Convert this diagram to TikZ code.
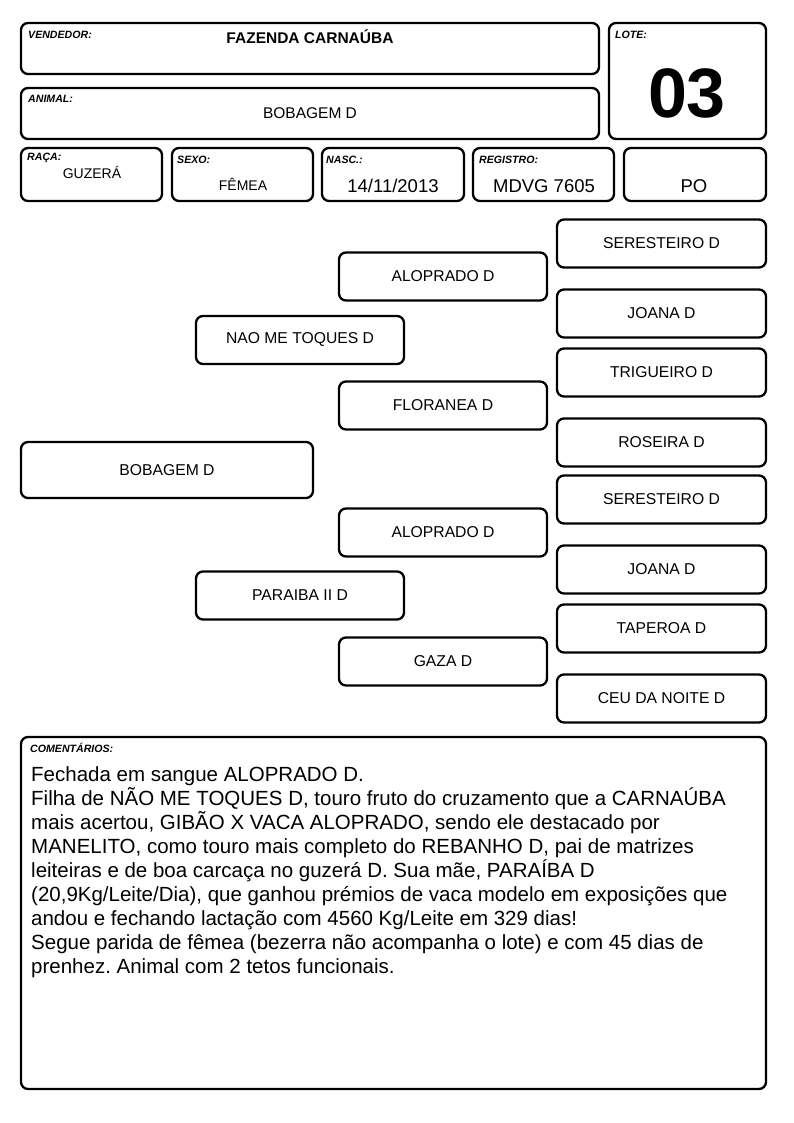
\documentclass[tikz,border=0pt]{standalone}
\usepackage{fontspec}
\setmainfont{Liberation Sans}
\frenchspacing
\begin{document}
\begin{tikzpicture}[x = 1pt, y = -1pt,
    box/.style = {draw, line width = 2.3pt, rounded corners = 7pt, inner sep = 0pt},
    tag/.style = {anchor = west, inner sep = 0pt, font = \fontsize{10.6}{12}\selectfont\bfseries\itshape},
    val/.style = {inner sep = 0pt, font = \fontsize{14}{17}\selectfont},
    big/.style = {inner sep = 0pt, font = \fontsize{18.5}{22}\selectfont},
    ped/.style = {box, minimum width = 209pt, minimum height = 48pt, font = \fontsize{15.7}{18}\selectfont}]
    \useasboundingbox (0, 0) rectangle (794, 1123);
    % header
    \node (vend) at (310, 48.5) [box, minimum width = 578pt, minimum height = 51pt] {};
    \node (lote) at (687.5, 81) [box, minimum width = 157pt, minimum height = 116pt] {};
    \node (anim) at (310, 113.5) [box, minimum width = 578pt, minimum height = 51pt] {};
    \node (raca) at (91.5, 174.5) [box, minimum width = 141pt, minimum height = 53pt] {};
    \node (sexo) at (242.5, 174.5) [box, minimum width = 141pt, minimum height = 53pt] {};
    \node (nasc) at (393, 174.5) [box, minimum width = 142pt, minimum height = 53pt] {};
    \node (reg) at (543.5, 174.5) [box, minimum width = 141pt, minimum height = 53pt] {};
    \node (po) at (695, 174.5) [box, minimum width = 142pt, minimum height = 53pt] {};
    \node (vendt) at (28, 35) [tag] {VENDEDOR:};
    \node (lotet) at (615, 35) [tag] {LOTE:};
    \node (animt) at (28, 99) [tag] {ANIMAL:};
    \node (racat) at (27, 158) [tag] {RAÇA:};
    \node (sexot) at (177, 160) [tag] {SEXO:};
    \node (nasct) at (326, 160) [tag] {NASC.:};
    \node (regt) at (479, 160) [tag] {REGISTRO:};
    \node (vendv) at (310, 37) [val, font = \fontsize{15.5}{18}\selectfont\bfseries] {FAZENDA CARNAÚBA};
    \node (animv) at (310, 113) [val, font = \fontsize{15.5}{18}\selectfont] {BOBAGEM D};
    \node (lotev) at (687, 93) [inner sep = 0pt, font = \fontsize{70}{80}\selectfont\bfseries] {03};
    \node (racav) at (92, 172) [val] {GUZERÁ};
    \node (sexov) at (243, 184) [val] {FÊMEA};
    \node (nascv) at (393, 186) [big] {14/11/2013};
    \node (regv) at (544, 186) [big] {MDVG 7605};
    \node (pov) at (694, 186) [big] {PO};
    % pedigree
    \node (bob) at (167, 470) [ped, minimum width = 292pt, minimum height = 56pt] {BOBAGEM D};
    \node (naome) at (300, 340) [ped, minimum width = 208pt] {NAO ME TOQUES D};
    \node (parai) at (300, 595.5) [ped, minimum width = 208pt] {PARAIBA II D};
    \node (alo1) at (443, 276.5) [ped, minimum width = 208pt] {ALOPRADO D};
    \node (flor) at (443, 405.5) [ped, minimum width = 208pt] {FLORANEA D};
    \node (alo2) at (443, 532.5) [ped, minimum width = 208pt] {ALOPRADO D};
    \node (gaza) at (443, 661.5) [ped, minimum width = 208pt] {GAZA D};
    \node (ser1) at (661.5, 243.5) [ped] {SERESTEIRO D};
    \node (joa1) at (661.5, 313.5) [ped] {JOANA D};
    \node (trig) at (661.5, 372.5) [ped] {TRIGUEIRO D};
    \node (ros) at (661.5, 442.5) [ped] {ROSEIRA D};
    \node (ser2) at (661.5, 499.5) [ped] {SERESTEIRO D};
    \node (joa2) at (661.5, 569.5) [ped] {JOANA D};
    \node (tap) at (661.5, 628.5) [ped] {TAPEROA D};
    \node (ceu) at (661.5, 698.5) [ped] {CEU DA NOITE D};
    % comments
    \node (com) at (393.5, 913) [box, minimum width = 745pt, minimum height = 352pt] {};
    \node (comt) at (30, 748) [tag] {COMENTÁRIOS:};
    \node (comv) at (31, 766) [anchor = north west, inner sep = 0pt, align = left, font = \fontsize{20.5}{24}\selectfont] {Fechada em sangue ALOPRADO D.\\
        Filha de NÃO ME TOQUES D, touro fruto do cruzamento que a CARNAÚBA\\
        mais acertou, GIBÃO X VACA ALOPRADO, sendo ele destacado por\\
        MANELITO, como touro mais completo do REBANHO D, pai de matrizes\\
        leiteiras e de boa carcaça no guzerá D. Sua mãe, PARAÍBA D\\
        (20,9Kg/Leite/Dia), que ganhou prémios de vaca modelo em exposições que\\
        andou e fechando lactação com 4560 Kg/Leite em 329 dias!\\
        Segue parida de fêmea (bezerra não acompanha o lote) e com 45 dias de\\
        prenhez. Animal com 2 tetos funcionais.};
\end{tikzpicture}
\end{document}
